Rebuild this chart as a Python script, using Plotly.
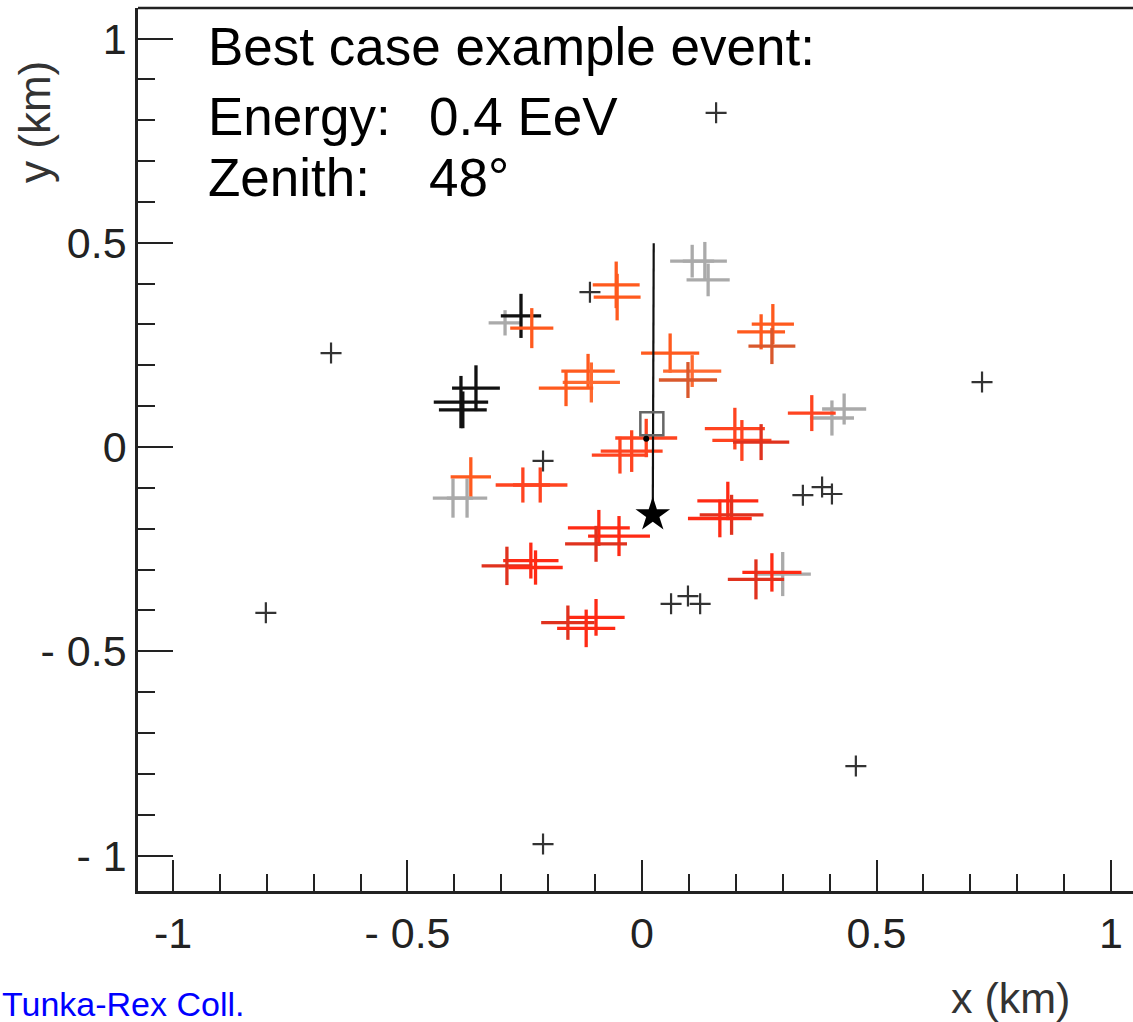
import plotly.graph_objects as go

# ---------------- data (km) ----------------
# antennas with signal: centre x, y, half-extent ex, ey, colour class
ant_x = [-0.055, -0.053,
         -0.354, -0.386, -0.382,
         -0.292, -0.258, -0.235,
         -0.115, -0.108, -0.162,
         0.107, 0.134, 0.141,
         0.279, 0.254, 0.277,
         0.060, 0.107, 0.098,
         0.431, 0.405, 0.362,
         0.198, 0.213, 0.254,
         0.009, -0.022, -0.047,
         -0.403, -0.373, -0.365,
         -0.254, -0.217,
         -0.092, -0.049, -0.098,
         -0.237, -0.288, -0.227,
         -0.098, -0.158, -0.119,
         0.183, 0.191, 0.166,
         0.300, 0.277, 0.243]
ant_y = [0.397, 0.367,
         0.144, 0.110, 0.091,
         0.304, 0.321, 0.291,
         0.186, 0.158, 0.144,
         0.455, 0.455, 0.409,
         0.301, 0.282, 0.247,
         0.230, 0.186, 0.164,
         0.093, 0.071, 0.083,
         0.045, 0.016, 0.012,
         0.022, -0.010, -0.020,
         -0.125, -0.125, -0.073,
         -0.093, -0.093,
         -0.198, -0.218, -0.237,
         -0.278, -0.291, -0.295,
         -0.417, -0.430, -0.444,
         -0.132, -0.166, -0.175,
         -0.311, -0.307, -0.324]
ant_ex = [0.050, 0.050,
          0.051, 0.058, 0.051,
          0.035, 0.043, 0.046,
          0.057, 0.061, 0.058,
          0.047, 0.047, 0.046,
          0.045, 0.051, 0.050,
          0.062, 0.062, 0.062,
          0.047, 0.047, 0.051,
          0.064, 0.063, 0.060,
          0.066, 0.066, 0.060,
          0.043, 0.043, 0.043,
          0.058, 0.058,
          0.066, 0.066, 0.066,
          0.059, 0.054, 0.058,
          0.061, 0.057, 0.062,
          0.065, 0.068, 0.068,
          0.060, 0.063, 0.060]
ant_ey = [0.057, 0.057,
          0.056, 0.064, 0.045,
          0.031, 0.054, 0.049,
          0.042, 0.049, 0.044,
          0.040, 0.047, 0.040,
          0.049, 0.043, 0.044,
          0.048, 0.039, 0.044,
          0.038, 0.043, 0.044,
          0.051, 0.050, 0.044,
          0.047, 0.051, 0.045,
          0.048, 0.048, 0.048,
          0.043, 0.043,
          0.044, 0.049, 0.044,
          0.044, 0.047, 0.042,
          0.045, 0.042, 0.046,
          0.047, 0.049, 0.046,
          0.054, 0.047, 0.049]
ant_cls = ["o", "o",
           "k", "k", "k",
           "g", "k", "o",
           "o", "o2", "o",
           "g", "g", "g",
           "o", "o", "do",
           "o", "o2", "do",
           "g", "g", "r",
           "r", "r", "dr",
           "r", "r", "r",
           "g", "g", "o",
           "r", "r",
           "r2", "r2", "dr",
           "r2", "dr", "r2",
           "r2", "dr", "r2",
           "r2", "dr", "r2",
           "g", "r2", "dr"]

# antennas without signal
nosig_x = [0.158, -0.663, 0.725, -0.111, -0.802, -0.211, 0.343, 0.384, 0.405,
           0.062, 0.098, 0.124, 0.456, -0.211]
nosig_y = [0.818, 0.230, 0.159, 0.379, -0.406, -0.034, -0.118, -0.098, -0.115,
           -0.384, -0.365, -0.384, -0.781, -0.972]

# reconstructed core (star), reference point (square), dot, shower-axis line
core_x, core_y = [0.023], [-0.166]
square_x, square_y = [0.021], [0.057]
dot_x, dot_y = [0.009], [0.020]
axis_x = [0.025, 0.023]
axis_y = [0.499, -0.166]

x_tickvals = [-1, -0.5, 0, 0.5, 1]
x_ticktext = ["-1", "- 0.5", "0", "0.5", "1"]
y_tickvals = [1, 0.5, 0, -0.5, -1]
y_ticktext = ["1", "0.5", "0", "- 0.5", "- 1"]

palette = {
    "o": "#ff5a1e",
    "o2": "#ff6a30",
    "do": "#d9582c",
    "r": "#ff4420",
    "r2": "#ff2a14",
    "dr": "#e0321e",
    "g": "#aaaaaa",
    "k": "#111111",
}

FONT = "Liberation Sans, Arial, sans-serif"

# plot-area geometry (pixels) used to place outside texts in paper coords
L, R, T, B = 138, 1133, 8, 891
W, H = 1133, 1022


def px2paper(px, py):
    return (px - L) / (R - L), (B - py) / (B - T)


fig = go.Figure()

for x, y, ex, ey, c in zip(ant_x, ant_y, ant_ex, ant_ey, ant_cls):
    col = palette[c]
    fig.add_trace(go.Scatter(
        x=[x], y=[y], mode="markers",
        marker=dict(size=1, color="rgba(0,0,0,0)"),
        error_x=dict(type="data", array=[ex], color=col, thickness=3.3, width=0),
        error_y=dict(type="data", array=[ey], color=col, thickness=3.3, width=0),
        showlegend=False, hoverinfo="skip"))

fig.add_trace(go.Scatter(
    x=nosig_x, y=nosig_y, mode="markers",
    marker=dict(symbol="cross-thin", size=15, color="#333333",
                line=dict(width=2.2, color="#333333")),
    showlegend=False, hoverinfo="skip"))

fig.add_trace(go.Scatter(
    x=axis_x, y=axis_y, mode="lines",
    line=dict(color="#111111", width=2.2), showlegend=False, hoverinfo="skip"))

fig.add_trace(go.Scatter(
    x=square_x, y=square_y, mode="markers",
    marker=dict(symbol="square-open", size=23, color="#666666",
                line=dict(width=2.5, color="#666666")),
    showlegend=False, hoverinfo="skip"))

fig.add_trace(go.Scatter(
    x=dot_x, y=dot_y, mode="markers",
    marker=dict(symbol="circle", size=6, color="#000000"),
    showlegend=False, hoverinfo="skip"))

fig.add_trace(go.Scatter(
    x=core_x, y=core_y, mode="markers",
    marker=dict(symbol="star", size=26, color="#000000", line=dict(width=0)),
    showlegend=False, hoverinfo="skip"))

axis_common = dict(
    showgrid=False, zeroline=False, showline=True, linecolor="#222222", linewidth=2.5,
    ticks="inside", tickcolor="#222222", tickwidth=2,
    tickfont=dict(family=FONT, size=43, color="#222222"),
)

fig.update_xaxes(
    range=[-1.0746, 1.0469], tickmode="array", tickvals=x_tickvals, ticktext=x_ticktext,
    ticklen=31, ticklabelstandoff=3,
    minor=dict(ticks="inside", ticklen=17, tickwidth=2, tickcolor="#222222", dtick=0.1, tick0=0),
    **axis_common)
fig.update_yaxes(
    range=[-1.0869, 1.0747], tickmode="array", tickvals=y_tickvals, ticktext=y_ticktext,
    ticklen=35, ticklabelstandoff=0,
    minor=dict(ticks="inside", ticklen=17, tickwidth=2, tickcolor="#222222", dtick=0.1, tick0=0),
    **axis_common)

# top frame line
fig.add_shape(type="line", xref="paper", yref="paper", x0=0, x1=1, y0=1, y1=1,
              line=dict(color="#222222", width=2.5))

ann_font = dict(family=FONT, size=53, color="#000000")
annots = [
    ("Best case example event:", -0.9275, 0.980),
    ("Energy:", -0.9275, 0.810),
    ("0.4 EeV", -0.456, 0.810),
    ("Zenith:", -0.9275, 0.660),
    ("48°", -0.456, 0.660),
]
for t, ax_, ay_ in annots:
    fig.add_annotation(text=t, x=ax_, y=ay_, xref="x", yref="y", xanchor="left",
                       yanchor="middle", showarrow=False, font=ann_font, borderpad=0)

px_, py_ = px2paper(1010, 998)
fig.add_annotation(text="x (km)", x=px_, y=py_, xref="paper", yref="paper",
                   xanchor="center", yanchor="middle", showarrow=False,
                   font=dict(family=FONT, size=43, color="#333333"))
px_, py_ = px2paper(35, 122)
fig.add_annotation(text="y (km)", x=px_, y=py_, xref="paper", yref="paper",
                   xanchor="center", yanchor="middle", showarrow=False, textangle=-90,
                   font=dict(family=FONT, size=44, color="#333333"))
px_, py_ = px2paper(1, 1004)
fig.add_annotation(text="Tunka-Rex Coll.", x=px_, y=py_, xref="paper", yref="paper",
                   xanchor="left", yanchor="middle", showarrow=False, borderpad=0,
                   font=dict(family=FONT, size=34, color="#0000ff"))

fig.update_layout(
    width=W, height=H,
    margin=dict(l=L, r=W - R, t=T, b=H - B, pad=0),
    plot_bgcolor="white", paper_bgcolor="white",
    showlegend=False,
)

fig.write_html("out.html")
